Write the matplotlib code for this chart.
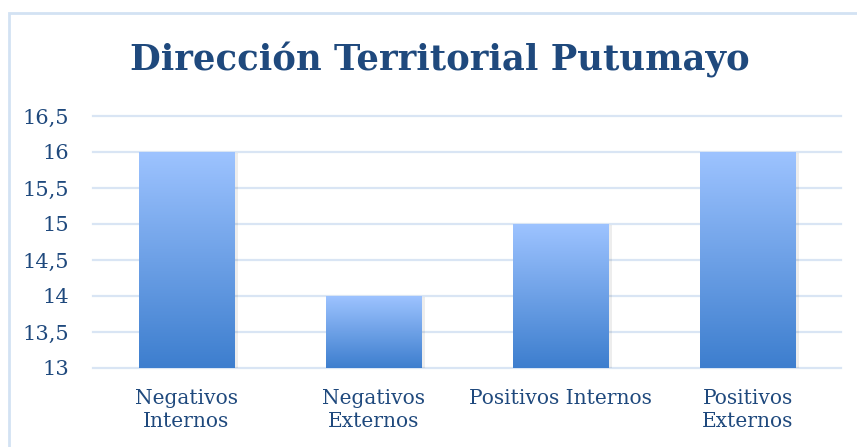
import numpy as np
import matplotlib.pyplot as plt
from matplotlib.patches import Rectangle
from matplotlib.colors import LinearSegmentedColormap

categorias = ['Negativos\nInternos', 'Negativos\nExternos', 'Positivos Internos', 'Positivos\nExternos']
valores = [16, 14, 15, 16]
yticks = [13, 13.5, 14, 14.5, 15, 15.5, 16, 16.5]
ytick_labels = ['13', '13,5', '14', '14,5', '15', '15,5', '16', '16,5']

azul_texto = '#1F497D'
fuente = 'DejaVu Serif'

fig = plt.figure(figsize=(8.57, 4.47), dpi=100)
ax = fig.add_axes([93/857, 1-368/447, (841-93)/857, (368-116)/447])

# degradado vertical: claro arriba, oscuro abajo
grad = np.linspace(0, 1, 256).reshape(-1, 1)
cmap = LinearSegmentedColormap.from_list('g', ['#3D7ECE', '#9DC3FF'])

ancho = 0.51
x = np.arange(len(categorias))
ax.bar(x + 0.02, np.array(valores) - 13, bottom=13 - 0.02, width=ancho, color='#000000', alpha=0.07, zorder=2)
for xi, v in zip(x, valores):
    ax.imshow(grad, cmap=cmap, extent=[xi - ancho/2, xi + ancho/2, 13, v], aspect='auto', origin='lower', zorder=3)

ax.set_xlim(-0.5, 3.5)
ax.set_ylim(13, 16.5)
ax.set_yticks(yticks)
ax.set_yticklabels(ytick_labels)
ax.set_xticks(x)
ax.set_xticklabels(categorias, va='top', linespacing=1.3)
ax.yaxis.grid(True, color='#D9E5F4', linewidth=1.6)
for gl in ax.get_ygridlines():
    gl.set_clip_on(False)
ax.set_axisbelow(True)
for s in ax.spines.values():
    s.set_visible(False)
ax.tick_params(length=0, colors=azul_texto)
ax.tick_params(axis='y', pad=17, labelsize=15)
ax.tick_params(axis='x', pad=15, labelsize=14.5)
for lbl in ax.get_xticklabels() + ax.get_yticklabels():
    lbl.set_family(fuente)

fig.text(440/857, 1-60/447, 'Dirección Territorial Putumayo', ha='center', va='center',
         fontsize=25.5, fontweight='bold', color=azul_texto, family=fuente)

fig.add_artist(Rectangle((9/857, -0.1), 1.2, 1 - 13/447 + 0.1, transform=fig.transFigure,
                         fill=False, edgecolor='#D3E2F3', linewidth=2))

fig.savefig('out.png', dpi=100)
